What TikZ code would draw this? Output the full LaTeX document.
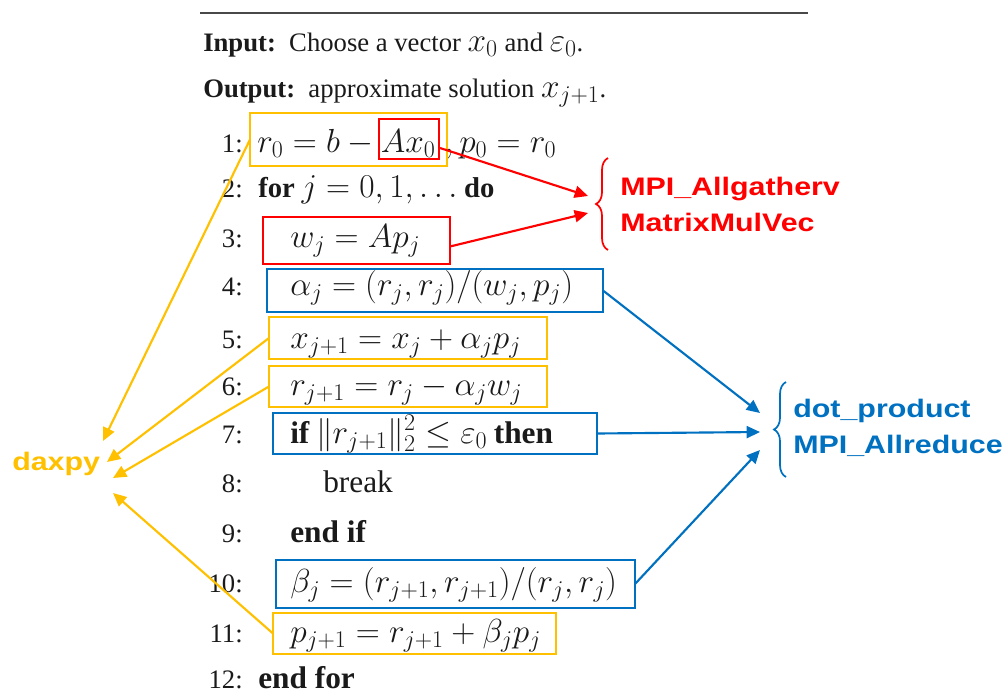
\RequirePackage{fix-cm}
\documentclass[tikz,border=0pt]{standalone}
\usepackage{fontspec}
\setmainfont{Liberation Serif}
\newfontfamily\lblfont{Liberation Sans}[FakeStretch=1.2]
\DeclareMathSizes{20}{25}{18}{13.5}
\usetikzlibrary{decorations.pathreplacing,arrows.meta,calc}
\definecolor{dyellow}{HTML}{FFC000}
\definecolor{dred}{HTML}{FF0000}
\definecolor{dblue}{HTML}{0070C0}
\definecolor{dtext}{HTML}{1A1A1A}
\newcommand\mkbox[6]{\node[draw=#2, line width=1.6pt, inner sep=0pt, outer sep=0pt, anchor=north west,
  minimum width={(#5-#3)*0.75pt}, minimum height={(#6-#4)*0.75pt}] (#1) at (#3,#4) {};}
\newcommand\kwA[1]{{\fontsize{21.5}{25}\selectfont\bfseries #1}}
\newcommand\kwB[1]{{\fontsize{23.5}{27}\selectfont #1}}
\begin{document}
\begin{tikzpicture}[x=0.75pt,y=-0.75pt,
  txt/.style={anchor=base west, inner sep=0pt, text=dtext, font=\fontsize{20}{24}\selectfont},
  num/.style={anchor=base east, inner sep=0pt, text=dtext, font=\fontsize{20}{24}\selectfont},
  lbl/.style={anchor=base west, inner sep=0pt, font=\lblfont\bfseries\fontsize{19}{23}\selectfont},
  arr/.style={line width=1.6pt, -{Triangle[length=10pt,width=9pt]}},
  brc/.style={line width=1.3pt, decorate, decoration={brace, amplitude=9pt}}
]
\useasboundingbox (0,0) rectangle (1002,699);
\draw[line width=1.5pt, dtext!80] (200,13) -- (808,13);
\node[txt] (inp) at (203,52) {\textbf{Input:}\ \ Choose a vector $x_0$ and $\varepsilon_0$.};
\node[txt] (outp) at (203,98) {\textbf{Output:}\ \ approximate solution $x_{j+1}$.};
% line numbers
\node[num] (n1) at (243,152) {1:};
\node[num] (n2) at (243,197) {2:};
\node[num] (n3) at (243,247) {3:};
\node[num] (n4) at (243,295) {4:};
\node[num] (n5) at (243,348) {5:};
\node[num] (n6) at (243,395) {6:};
\node[num] (n7) at (243,443) {7:};
\node[num] (n8) at (243,492) {8:};
\node[num] (n9) at (243,542) {9:};
\node[num] (n10) at (243,592) {10:};
\node[num] (n11) at (243,642) {11:};
\node[num] (n12) at (243,688) {12:};
% lines
\node[txt] (l1) at (257,152) {$r_0 = b - Ax_0\;, p_0 = r_0$};
\node[txt] (l2) at (258,197) {\kwA{for} $j = 0, 1, \ldots$ \kwA{do}};
\node[txt] (l3) at (290,247) {$w_j = Ap_j$};
\node[txt] (l4) at (290,295) {$\alpha_j = (r_j, r_j)/(w_j, p_j)$};
\node[txt] (l5) at (290,348) {$x_{j+1} = x_j + \alpha_j p_j$};
\node[txt] (l6) at (290,395) {$r_{j+1} = r_j - \alpha_j w_j$};
\node[txt] (l7) at (290,443) {\kwB{\bfseries if} $\|r_{j+1}\|_2^2 \le \varepsilon_0$ \kwB{\bfseries then}};
\node[txt] (l8) at (323,492) {\kwB{break}};
\node[txt] (l9) at (290,542) {\kwB{\bfseries end if}};
\node[txt] (l10) at (290,592) {$\beta_j = (r_{j+1}, r_{j+1})/(r_j, r_j)$};
\node[txt] (l11) at (290,642) {$p_{j+1} = r_{j+1} + \beta_j p_j$};
\node[txt] (l12) at (258,688) {\kwB{\bfseries end for}};
% boxes
\mkbox{y1}{dyellow}{250}{113}{447}{166}
\mkbox{r1}{dred}{379}{119}{439}{159}
\mkbox{r3}{dred}{263}{217}{450}{264}
\mkbox{b4}{dblue}{267}{269}{603}{312}
\mkbox{y5}{dyellow}{269}{317}{547}{359}
\mkbox{y6}{dyellow}{269}{366}{547}{407}
\mkbox{b7}{dblue}{273}{413}{597}{454}
\mkbox{b10}{dblue}{276}{560}{635}{608}
\mkbox{y11}{dyellow}{273}{613}{556}{654}
% labels
\node[lbl, text=dred] (mpi1) at (620,195) {MPI\_Allgatherv};
\node[lbl, text=dred] (mmv) at (620,231) {MatrixMulVec};
\node[lbl, text=dblue] (dot) at (793,417) {dot\_product};
\node[lbl, text=dblue] (mpi2) at (793,453) {MPI\_Allreduce};
\node[lbl, text=dyellow] (daxpy) at (12,470) {daxpy};
% braces
\coordinate (rbt) at (608,158);
\coordinate (rbb) at (608,250);
\coordinate (bbt) at (786,382);
\coordinate (bbb) at (786,477);
\draw[brc, dred] (rbb) -- (rbt);
\draw[brc, dblue] (bbb) -- (bbt);
% arrow tips
\coordinate (ra1) at (588,196);
\coordinate (ra2) at (588,213);
\coordinate (ba1) at (760,413);
\coordinate (ba2) at (760,432);
\coordinate (ba3) at (760,450);
\coordinate (ya1) at (103,441);
\coordinate (ya2) at (107,462);
\coordinate (ya3) at (113,478);
\coordinate (ya4) at (113,493);
% arrows
\draw[arr, dred] ($(r1.east)+(1,9)$) -- (ra1);
\draw[arr, dred] ($(r3.east)+(0,6)$) -- (ra2);
\draw[arr, dblue] (b4.east) -- (ba1);
\draw[arr, dblue] (b7.east) -- (ba2);
\draw[arr, dblue] (b10.east) -- (ba3);
\draw[arr, dyellow] (y1.west) -- (ya1);
\draw[arr, dyellow] (y5.west) -- (ya2);
\draw[arr, dyellow] (y6.west) -- (ya3);
\draw[arr, dyellow] (y11.west) -- (ya4);
\end{tikzpicture}
\end{document}
